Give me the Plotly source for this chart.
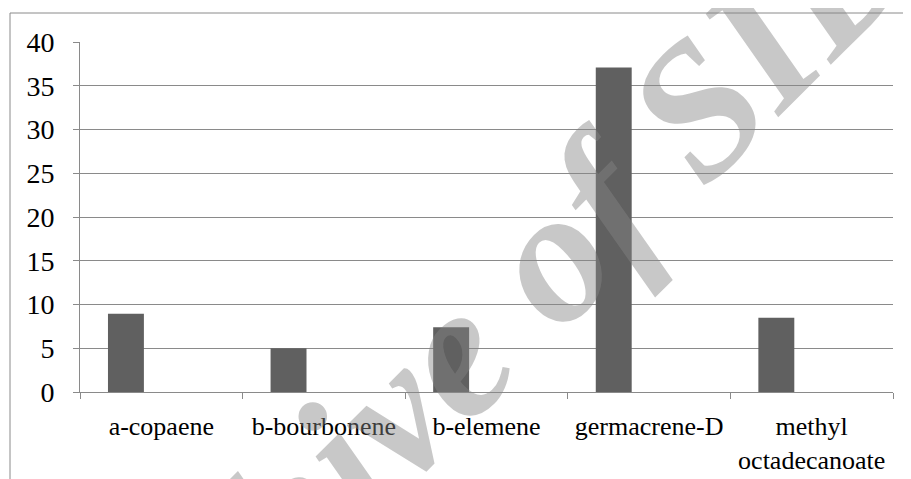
import plotly.graph_objects as go

categories = ["a-copaene", "b-bourbonene", "b-elemene", "germacrene-D", "methyl<br>octadecanoate"]
values = [8.95, 5.0, 7.4, 37.1, 8.5]
y_ticks = [0, 5, 10, 15, 20, 25, 30, 35, 40]

# page body has an 8px margin, so the figure is shrunk by that amount
OFF = 8
W, H = 911 - OFF, 479 - OFF
PL, PR, PT, PB = 80, 893, 42, 392  # plot area in window pixels
L, R, T, B = PL - OFF, W - (PR - OFF), PT - OFF, H - (PB - OFF)
pw, ph = PR - PL, PB - PT

def px_x(x):
    return (x - PL) / pw

def px_y(y):
    return (PB - y) / ph

SERIF = "Liberation Serif"

fig = go.Figure()
fig.add_trace(go.Bar(
    x=categories, y=values,
    width=0.221, offset=-0.328,
    marker=dict(color="#606060", line=dict(width=0)),
    hoverinfo="x+y",
))

grid = "#8a8a8a"
fig.update_layout(
    width=W, height=H,
    margin=dict(l=L, r=R, t=T, b=B, pad=0, autoexpand=False),
    paper_bgcolor="white", plot_bgcolor="white",
    showlegend=False,
    font=dict(family=SERIF, color="black"),
    xaxis=dict(
        type="category", automargin=False,
        showgrid=False, showline=True, linecolor=grid, linewidth=1,
        ticks="outside", tickson="boundaries", ticklen=6, tickcolor=grid,
        tickfont=dict(size=26, family=SERIF, color="black"),
        ticklabelstandoff=11, fixedrange=True,
    ),
    yaxis=dict(
        range=[0, 40], tickvals=y_ticks, automargin=False,
        showgrid=True, gridcolor=grid, gridwidth=1,
        showline=True, linecolor=grid, linewidth=1,
        ticks="outside", ticklen=6, tickcolor=grid,
        tickfont=dict(size=28, family=SERIF, color="black"), ticklabelstandoff=13,
        zeroline=False, fixedrange=True,
    ),
    shapes=[dict(
        type="rect", xref="paper", yref="paper",
        x0=px_x(10), x1=px_x(911 + 5), y0=px_y(479 + 5), y1=px_y(13),
        line=dict(color=grid, width=1), fillcolor="rgba(0,0,0,0)", layer="above",
    )],
    annotations=[dict(
        text="<b><i>Archive of SID</i></b>",
        xref="paper", yref="paper", x=px_x(462), y=px_y(343),
        xanchor="center", yanchor="middle", showarrow=False,
        textangle=-45,
        font=dict(size=190, color="rgba(132,132,132,0.45)", family=SERIF),
    )],
)

fig.write_html("out.html")
